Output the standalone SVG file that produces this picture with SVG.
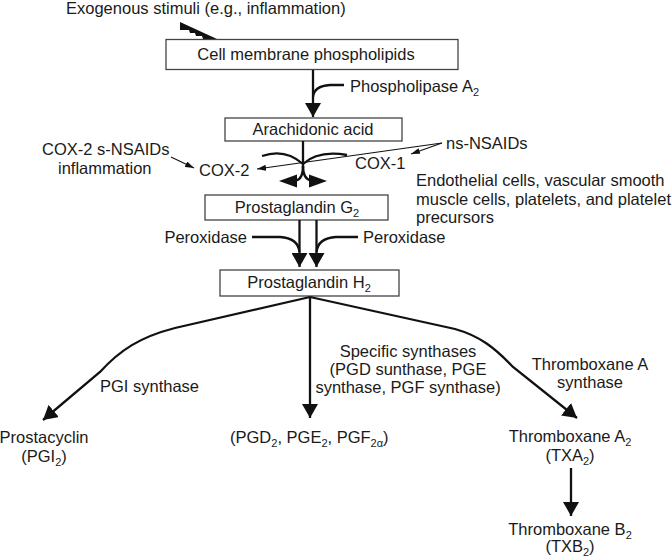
<svg xmlns="http://www.w3.org/2000/svg" width="672" height="559" viewBox="0 0 672 559">
<style>
text{font-family:"Liberation Sans",Arial,sans-serif;font-size:16.5px;fill:#1a1a1a}
.m{text-anchor:middle}
.e{text-anchor:end}
.box{fill:#fff;stroke:#444;stroke-width:1.3}
.thick{fill:none;stroke:#111;stroke-width:2.3}
.thin{fill:none;stroke:#111;stroke-width:1.1}
.head{fill:#111}
</style>
<defs>
<marker id="ah" viewBox="0 0 14 16" refX="14" refY="8" markerWidth="14" markerHeight="16" markerUnits="userSpaceOnUse" orient="auto">
<path d="M0,0 L14,8 L0,16 z" fill="#111"/>
</marker>
<marker id="as" viewBox="0 0 9 6" refX="9" refY="3" markerWidth="9" markerHeight="6" markerUnits="userSpaceOnUse" orient="auto">
<path d="M0,0 L9,3 L0,6 z" fill="#111"/>
</marker>
</defs>

<g id="stimuli">
<text x="66" y="14">Exogenous stimuli (e.g., inflammation)</text>
<polygon class="head" points="180,22 217,39 203,39 202,36 196,36 195,33 190,33 189,30 180,30"/>
</g>

<g id="cell-membrane">
<rect class="box" x="166" y="39.5" width="292" height="30"/>
<text class="m" x="306" y="60">Cell membrane phospholipids</text>
</g>

<g id="phospholipase">
<text x="350" y="92">Phospholipase A<tspan font-size="11" dy="4">2</tspan></text>
</g>

<g id="arachidonic">
<rect class="box" x="225" y="118" width="177" height="23"/>
<text class="m" x="313" y="135">Arachidonic acid</text>
</g>

<g id="cox2-label">
<text x="42" y="155">COX-2 s-NSAIDs</text>
<text x="58" y="174">inflammation</text>
<text x="199" y="176">COX-2</text>
</g>

<g id="cox1-label">
<text x="355" y="169">COX-1</text>
<text x="446" y="149">ns-NSAIDs</text>
</g>

<g id="cells">
<text x="416" y="186">Endothelial cells, vascular smooth</text>
<text x="416" y="205">muscle cells, platelets, and platelet</text>
<text x="416" y="223">precursors</text>
</g>

<g id="pgg2">
<rect class="box" x="205" y="195" width="183" height="25"/>
<text class="m" x="297" y="213">Prostaglandin G<tspan font-size="11" dy="4">2</tspan></text>
</g>

<g id="peroxidase">
<text class="e" x="247" y="243">Peroxidase</text>
<text x="363" y="243">Peroxidase</text>
</g>

<g id="pgh2">
<rect class="box" x="220" y="270" width="179" height="26"/>
<text class="m" x="309" y="288">Prostaglandin H<tspan font-size="11" dy="4">2</tspan></text>
</g>

<g id="prostacyclin">
<text x="100" y="392">PGI synthase</text>
<text class="m" x="44" y="443">Prostacyclin</text>
<text class="m" x="44" y="462">(PGI<tspan font-size="11" dy="4">2</tspan><tspan dy="-4">)</tspan></text>
</g>

<g id="pgd-pge-pgf">
<text class="m" x="408" y="357">Specific synthases</text>
<text class="m" x="408" y="375">(PGD sunthase, PGE</text>
<text class="m" x="408" y="393">synthase, PGF synthase)</text>
<text x="230" y="443">(PGD<tspan font-size="11" dy="4">2</tspan><tspan dy="-4">, PGE</tspan><tspan font-size="11" dy="4">2</tspan><tspan dy="-4">, PGF</tspan><tspan font-size="11" dy="4">2α</tspan><tspan dy="-4">)</tspan></text>
</g>

<g id="txa2">
<text class="m" x="590" y="370">Thromboxane A</text>
<text class="m" x="590" y="388">synthase</text>
<text class="m" x="570" y="442">Thromboxane A<tspan font-size="11" dy="4">2</tspan></text>
<text class="m" x="570" y="461">(TXA<tspan font-size="11" dy="4">2</tspan><tspan dy="-4">)</tspan></text>
</g>

<g id="txb2">
<text class="m" x="570" y="535">Thromboxane B<tspan font-size="11" dy="4">2</tspan></text>
<text class="m" x="570" y="552">(TXB<tspan font-size="11" dy="4">2</tspan><tspan dy="-4">)</tspan></text>
</g>

<g id="connectors">
<path class="thick" d="M313 70 V117" marker-end="url(#ah)"/>
<path class="thick" d="M344 85 L330 85 Q314 86 313 97"/>

<path class="thick" d="M303 141 V168"/>
<path class="thick" d="M262 156 Q285 148 303 164"/>
<path class="thick" d="M347 155 Q318 150 303 164"/>
<path class="thick" d="M303 166 Q303 179 296 180.5"/>
<path class="thick" d="M303 166 Q303 179 311 180.5"/>
<polygon class="head" points="279,181 297,174.5 297,187.5"/>
<polygon class="head" points="327,181 309,174.5 309,187.5"/>

<path class="thin" d="M171 157 L194 168" marker-end="url(#as)"/>
<path class="thin" d="M442 143 L257 169" marker-end="url(#as)"/>
<path class="thin" d="M442 143 L411 154" marker-end="url(#as)"/>

<path class="thick" d="M299.5 220 V267" marker-end="url(#ah)"/>
<path class="thick" d="M316.5 220 V267" marker-end="url(#ah)"/>
<path class="thick" d="M252 237 L280 237 Q298 238 299.5 252"/>
<path class="thick" d="M358 237 L336 237 Q318 238 316.5 252"/>

<path class="thick" d="M310 297 L175 328 C140 337 120 350 100 372 L43 420" marker-end="url(#ah)"/>
<path class="thick" d="M310 297 V418" marker-end="url(#ah)"/>
<path class="thick" d="M310 297 L455 329 C480 336 495 348 513 367 L577 418" marker-end="url(#ah)"/>
<path class="thick" d="M571 468 V516" marker-end="url(#ah)"/>
</g>
</svg>
